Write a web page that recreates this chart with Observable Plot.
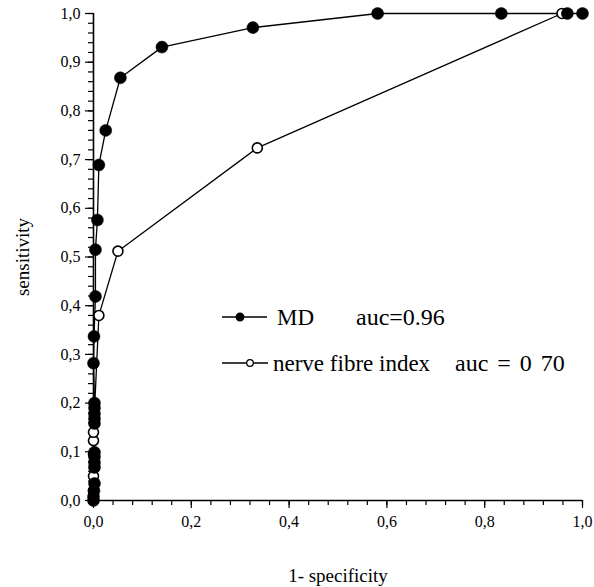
<!DOCTYPE html>
<html>
<head>
<meta charset="utf-8">
<script src="https://cdn.jsdelivr.net/npm/d3@7"></script>
<script src="https://cdn.jsdelivr.net/npm/@observablehq/plot@0.6"></script>
<style>
  html, body { margin: 0; padding: 0; background: #fff; }
  #wrap { position: relative; width: 594px; height: 587px; }
  #legend { position: absolute; left: 0; top: 0; pointer-events: none; }
  #wrap svg text { font-family: 'Liberation Serif', 'Times New Roman', serif; }
</style>
</head>
<body>
<div id="wrap"></div>
<script>
// MD series (1-specificity, sensitivity)
const mdX = [0, 0, 0.001, 0.002, 0.002, 0.002, 0.002, 0.002, 0.002, 0.002, 0.002, 0.002, 0.002, 0, 0.001, 0.004, 0.004, 0.008, 0.011, 0.025, 0.055, 0.140, 0.326, 0.581, 0.834, 0.969, 1.0];
const mdY = [0, 0.008, 0.02, 0.035, 0.068, 0.078, 0.09, 0.099, 0.158, 0.168, 0.178, 0.19, 0.200, 0.282, 0.337, 0.419, 0.515, 0.576, 0.689, 0.760, 0.868, 0.931, 0.971, 1.0, 1.0, 1.0, 1.0];
// nerve fibre index series
const nfX = [0, 0, 0, 0.002, 0, 0, 0, 0.011, 0.050, 0.335, 0.958];
const nfY = [0, 0.02, 0.05, 0.07, 0.095, 0.123, 0.140, 0.380, 0.512, 0.724, 1.0];
// ticks
const xMajor = [0, 0.2, 0.4, 0.6, 0.8, 1.0];
const xMinor = d3.range(0, 26).map(i => i * 0.04);
const yMajor = [0, 0.1, 0.2, 0.3, 0.4, 0.5, 0.6, 0.7, 0.8, 0.9, 1.0];
const yMinor = d3.range(0, 51).map(i => i * 0.02);
const xTitle = "1- specificity";
const yTitle = "sensitivity";
const legendNames = ["MD", "nerve fibre index"];
const legendAuc = ["auc=0.96", "auc = 0 70"];
const legendFilled = [true, false];

const md = mdX.map((x, i) => ({x, y: mdY[i]}));
const nf = nfX.map((x, i) => ({x, y: nfY[i]}));
const fmt = d => d.toFixed(1).replace(".", ",");
const serif = "'Liberation Serif', 'Times New Roman', serif";

const chart = Plot.plot({
  width: 594,
  height: 587,
  marginLeft: 93,
  marginRight: 12,
  marginTop: 13,
  marginBottom: 87,
  style: {fontFamily: serif, fontSize: "16px", background: "#fff", color: "#000"},
  x: {domain: [0, 1]},
  y: {domain: [0, 1]},
  marks: [
    Plot.axisY({ticks: yMinor, tickSize: 5, tickFormat: () => "", label: null, strokeWidth: 1.2}),
    Plot.axisY({ticks: yMajor, tickSize: 8, tickPadding: 5, tickFormat: fmt, label: null, strokeWidth: 1.2, fontSize: 16, fontFamily: serif}),
    Plot.axisX({ticks: xMinor, tickSize: 5, tickFormat: () => "", label: null, strokeWidth: 1.2}),
    Plot.axisX({ticks: xMajor, tickSize: 8, tickPadding: 7, tickFormat: fmt, label: null, strokeWidth: 1.2, fontSize: 16, fontFamily: serif}),
    Plot.ruleX([0], {stroke: "#000", strokeWidth: 1.6}),
    Plot.ruleY([0], {stroke: "#000", strokeWidth: 1.6}),
    Plot.line(nf, {x: "x", y: "y", stroke: "#000", strokeWidth: 1.3}),
    Plot.line(md, {x: "x", y: "y", stroke: "#000", strokeWidth: 1.3}),
    Plot.dot(nf, {x: "x", y: "y", r: 5, fill: "#fff", stroke: "#000", strokeWidth: 1.6}),
    Plot.dot(md, {x: "x", y: "y", r: 6, fill: "#000", stroke: "#000", strokeWidth: 0.5}),
    Plot.text([yTitle], {frameAnchor: "left", dx: -71, rotate: -90, fontSize: 19, fontFamily: serif, fill: "#000", textAnchor: "middle", lineAnchor: "middle"}),
    Plot.text([xTitle], {frameAnchor: "bottom", dy: 75, fontSize: 19, fontFamily: serif, fill: "#000", textAnchor: "middle", lineAnchor: "middle"})
  ]
});
document.getElementById("wrap").appendChild(chart);

// Legend overlay (layout only)
const leg = d3.select("#wrap").append("svg").attr("id", "legend").attr("width", 594).attr("height", 587);
const rows = [
  {y: 317, lx: 277, ax: 356, ws: 0, mx: 240, lineEnd: 267},
  {y: 363, lx: 273, ax: 455, ws: 3, mx: 250, lineEnd: 268}
];
legendNames.forEach((name, i) => {
  const r = rows[i];
  const filled = legendFilled[i];
  leg.append("line").attr("x1", 222).attr("x2", r.lineEnd).attr("y1", r.y).attr("y2", r.y).attr("stroke", "#000").attr("stroke-width", 1.4);
  leg.append("circle").attr("cx", r.mx).attr("cy", r.y).attr("r", filled ? 3.8 : 3.3)
    .attr("fill", filled ? "#000" : "#fff").attr("stroke", "#000").attr("stroke-width", 1.3);
  leg.append("text").attr("x", r.lx).attr("y", r.y).attr("dy", "0.35em")
    .attr("font-family", serif).attr("font-size", 23).text(name);
  leg.append("text").attr("x", r.ax).attr("y", r.y).attr("dy", "0.35em")
    .attr("font-family", serif).attr("font-size", 24)
    .attr("word-spacing", r.ws).text(legendAuc[i]);
});
</script>
</body>
</html>
